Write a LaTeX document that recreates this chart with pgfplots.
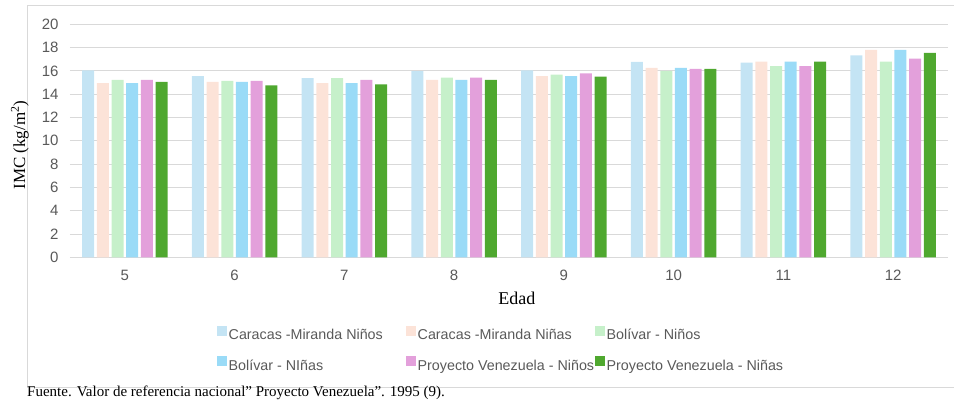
\documentclass[border=0pt]{standalone}
\usepackage{pgfplots}
\pgfplotsset{compat=1.18}
\usepackage{fontspec}
\setmainfont{Liberation Serif}
\newfontfamily\arial{Liberation Sans}

\definecolor{cA}{HTML}{C4E4F4}
\definecolor{cB}{HTML}{FCE3D8}
\definecolor{cC}{HTML}{C6F0CA}
\definecolor{cD}{HTML}{9ADBF7}
\definecolor{cE}{HTML}{E3A0DB}
\definecolor{cF}{HTML}{4FA82F}
\definecolor{gridgray}{HTML}{D9D9D9}
\definecolor{txtgray}{HTML}{595959}

\newcommand{\leg}[1]{\makebox[174pt][l]{#1}}

\begin{document}
\begin{tikzpicture}
\path[use as bounding box] (0pt,0pt) rectangle (954pt,403pt);
% outer frame of the figure
\draw[gridgray, line width=0.9pt] (960pt,398pt) -- (27pt,398pt) -- (27pt,16pt) -- (960pt,16pt);

\begin{axis}[
  at={(70pt,145.7pt)}, anchor=south west,
  scale only axis, width=878pt, height=233pt,
  ybar=2.7pt, bar width=12pt,
  xmin=-0.5, xmax=7.5, ymin=0, ymax=20,
  xtick={0,...,7}, xticklabels={5,6,7,8,9,10,11,12},
  ytick={0,2,...,20},
  /pgf/number format/assume math mode=true,
  axis line style={draw=none},
  major tick length=0pt,
  ymajorgrids, grid style={gridgray, line width=0.9pt},
  tick label style={font=\arial\fontsize{15}{17}\selectfont, text=txtgray},
  yticklabel style={xshift=-8pt},
  xticklabel style={yshift=-9pt},
  ylabel={IMC (kg/m\textsuperscript{2})},
  ylabel style={at={(axis description cs:-0.057,0.482)}, anchor=center, font=\fontsize{17}{19}\selectfont},
  xlabel={Edad},
  xlabel style={at={(axis description cs:0.509,-0.175)}, anchor=center, font=\fontsize{18}{20}\selectfont},
  legend columns=3,
  legend image code/.code={\fill[#1] (0pt,0pt) rectangle (10pt,10pt);},
  legend style={at={(axis description cs:0.1674,-0.292)}, anchor=north west,
    draw=none, fill=none, inner sep=0pt, /tikz/row sep=12pt,
    /tikz/every even column/.append style={column sep=2pt},
    nodes={inner sep=1.5pt, text height=11pt, text depth=3pt,
      font=\arial\fontsize{14.3}{16}\selectfont, text=txtgray}},
]
\addplot[fill=cA, draw=none] coordinates {(0,16.05) (1,15.56) (2,15.39) (3,15.97) (4,16.05) (5,16.77) (6,16.71) (7,17.34)};
\addlegendentry{\leg{Caracas -Miranda Niños}}
\addplot[fill=cB, draw=none] coordinates {(0,14.96) (1,15.05) (2,14.96) (3,15.22) (4,15.56) (5,16.25) (6,16.80) (7,17.80)};
\addlegendentry{\leg{Caracas -Miranda Niñas}}
\addplot[fill=cC, draw=none] coordinates {(0,15.22) (1,15.14) (2,15.39) (3,15.42) (4,15.68) (5,16.00) (6,16.42) (7,16.80)};
\addlegendentry{\leg{Bolívar - Niños}}
\addplot[fill=cD, draw=none] coordinates {(0,14.96) (1,15.05) (2,14.96) (3,15.22) (4,15.56) (5,16.25) (6,16.80) (7,17.80)};
\addlegendentry{\leg{Bolívar - NIñas}}
\addplot[fill=cE, draw=none] coordinates {(0,15.22) (1,15.14) (2,15.22) (3,15.42) (4,15.79) (5,16.17) (6,16.42) (7,17.05)};
\addlegendentry{\leg{Proyecto Venezuela - Niños}}
\addplot[fill=cF, draw=none] coordinates {(0,15.05) (1,14.76) (2,14.85) (3,15.22) (4,15.51) (5,16.17) (6,16.80) (7,17.54)};
\addlegendentry{\leg{Proyecto Venezuela - Niñas}}
\end{axis}

\node[anchor=base west, inner sep=0pt, font=\fontsize{15}{17}\selectfont] at (27pt,6.3pt)
  {Fuente. Valor de referencia nacional” Proyecto Venezuela”. 1995 (9).};
\end{tikzpicture}
\end{document}
